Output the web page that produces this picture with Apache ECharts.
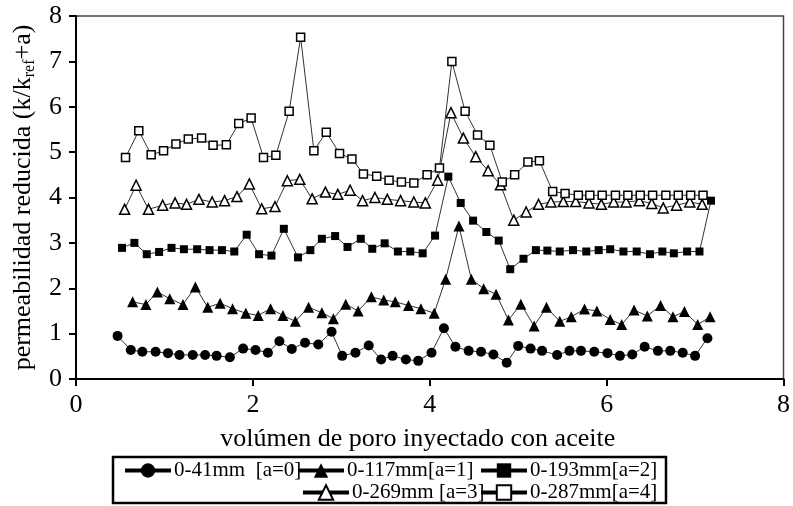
<!DOCTYPE html>
<html>
<head>
<meta charset="utf-8">
<script src="https://cdn.jsdelivr.net/npm/echarts@6/dist/echarts.min.js"></script>
<style>
  html, body { margin: 0; padding: 0; background: #fff; }
  #chart { width: 793px; height: 506px; }
</style>
</head>
<body>
<div id="chart"></div>
<script>
// Reduced permeability vs. injected oil pore volume, five core sections
const seriesNames = ['0-41mm  [a=0]', '0-117mm[a=1]', '0-193mm[a=2]', '0-269mm [a=3]', '0-287mm[a=4]'];

const x0 = [0.47,0.62,0.75,0.90,1.04,1.17,1.32,1.46,1.59,1.74,1.89,2.03,2.17,2.30,2.44,2.59,2.74,2.89,3.01,3.16,3.31,3.45,3.58,3.73,3.87,4.02,4.16,4.29,4.44,4.58,4.72,4.87,5.00,5.14,5.27,5.44,5.58,5.71,5.86,6.01,6.15,6.29,6.43,6.58,6.72,6.86,7.00,7.14];
const y0 = [0.95,0.64,0.60,0.60,0.57,0.53,0.53,0.53,0.51,0.48,0.67,0.64,0.58,0.83,0.66,0.80,0.76,1.04,0.51,0.58,0.74,0.43,0.51,0.43,0.40,0.58,1.12,0.71,0.62,0.60,0.54,0.36,0.73,0.67,0.62,0.53,0.62,0.62,0.60,0.57,0.51,0.54,0.71,0.62,0.62,0.58,0.51,0.90];

const x1 = [0.64,0.79,0.92,1.06,1.21,1.35,1.49,1.63,1.77,1.92,2.06,2.20,2.34,2.48,2.63,2.78,2.91,3.05,3.19,3.34,3.48,3.61,3.76,3.90,4.05,4.18,4.33,4.47,4.61,4.75,4.89,5.03,5.18,5.32,5.47,5.60,5.75,5.89,6.04,6.17,6.31,6.46,6.61,6.75,6.88,7.03,7.17];
const y1 = [1.70,1.64,1.92,1.77,1.64,2.03,1.58,1.67,1.55,1.45,1.40,1.55,1.40,1.27,1.58,1.46,1.33,1.65,1.50,1.81,1.74,1.70,1.62,1.55,1.45,2.20,3.37,2.20,1.99,1.87,1.30,1.65,1.17,1.58,1.27,1.37,1.54,1.50,1.31,1.20,1.52,1.39,1.62,1.37,1.49,1.20,1.37];

const x2 = [0.52,0.66,0.80,0.94,1.08,1.22,1.37,1.51,1.65,1.79,1.93,2.07,2.21,2.35,2.51,2.65,2.78,2.93,3.07,3.22,3.35,3.49,3.64,3.78,3.92,4.06,4.21,4.35,4.49,4.64,4.78,4.91,5.06,5.20,5.33,5.47,5.62,5.77,5.91,6.04,6.19,6.34,6.49,6.63,6.76,6.91,7.05,7.18];
const y2 = [2.89,3.00,2.75,2.80,2.89,2.86,2.86,2.84,2.84,2.81,3.18,2.75,2.72,3.31,2.68,2.84,3.09,3.15,2.91,3.09,2.87,2.99,2.81,2.81,2.77,3.16,4.46,3.88,3.49,3.24,3.05,2.42,2.65,2.84,2.83,2.81,2.84,2.81,2.84,2.86,2.81,2.81,2.75,2.81,2.77,2.81,2.81,3.93];

const x3 = [0.55,0.68,0.82,0.98,1.12,1.25,1.39,1.54,1.68,1.82,1.96,2.10,2.25,2.39,2.53,2.67,2.82,2.96,3.10,3.24,3.38,3.52,3.67,3.82,3.95,4.09,4.24,4.38,4.52,4.66,4.80,4.95,5.09,5.23,5.37,5.51,5.65,5.80,5.94,6.08,6.22,6.37,6.51,6.64,6.79,6.94,7.08];
const y3 = [3.74,4.27,3.74,3.83,3.88,3.85,3.96,3.90,3.93,4.02,4.30,3.75,3.80,4.37,4.40,3.97,4.12,4.07,4.16,3.93,4.00,3.96,3.93,3.90,3.88,4.38,5.87,5.31,4.90,4.59,4.28,3.50,3.68,3.85,3.90,3.91,3.91,3.88,3.85,3.90,3.90,3.93,3.87,3.77,3.83,3.90,3.85];

const x4 = [0.56,0.71,0.85,0.99,1.13,1.27,1.42,1.55,1.70,1.84,1.98,2.12,2.26,2.41,2.54,2.69,2.83,2.98,3.12,3.25,3.40,3.54,3.68,3.82,3.97,4.11,4.25,4.40,4.54,4.68,4.82,4.96,5.11,5.24,5.39,5.53,5.68,5.81,5.95,6.10,6.24,6.38,6.52,6.67,6.81,6.95,7.09];
const y4 = [4.88,5.47,4.94,5.03,5.18,5.29,5.31,5.15,5.16,5.63,5.75,4.88,4.93,5.90,7.53,5.03,5.44,4.97,4.85,4.52,4.47,4.38,4.34,4.32,4.50,4.65,7.00,5.90,5.38,5.15,4.34,4.50,4.78,4.81,4.13,4.09,4.05,4.05,4.05,4.05,4.05,4.05,4.05,4.05,4.05,4.05,4.05];

const xTicks = [0, 2, 4, 6, 8];
const yTicks = [0, 1, 2, 3, 4, 5, 6, 7, 8];

const SERIF = "'Liberation Serif', 'Times New Roman', serif";

function pairs(xs, ys) {
  return xs.map((x, i) => [x, ys[i]]);
}

const markerStyles = [
  { symbol: 'circle',   symbolSize: 10, itemStyle: { color: '#000' } },
  { symbol: 'triangle', symbolSize: 11, itemStyle: { color: '#000' } },
  { symbol: 'rect',     symbolSize: 8,  itemStyle: { color: '#000' } },
  { symbol: 'triangle', symbolSize: 10, itemStyle: { color: '#fff', borderColor: '#000', borderWidth: 1.5 } },
  { symbol: 'rect',     symbolSize: 8,  itemStyle: { color: '#fff', borderColor: '#000', borderWidth: 1.5 } }
];

const xs = [x0, x1, x2, x3, x4];
const ys = [y0, y1, y2, y3, y4];

const series = seriesNames.map((name, i) => ({
  name: name,
  type: 'line',
  data: pairs(xs[i], ys[i]),
  symbol: markerStyles[i].symbol,
  symbolSize: markerStyles[i].symbolSize,
  itemStyle: markerStyles[i].itemStyle,
  lineStyle: { color: '#333', width: 1 },
  showAllSymbol: true,
  animation: false,
  z: 2 + i
}));

// one legend block per entry so the two rows sit where they belong
const legendSlots = [
  { left: 123, top: 460 },
  { left: 296, top: 460 },
  { left: 479, top: 460 },
  { left: 301, top: 482 },
  { left: 479, top: 482 }
];
const legends = seriesNames.map((name, i) => ({
  data: [name],
  left: legendSlots[i].left,
  top: legendSlots[i].top,
  padding: 0,
  itemWidth: 46,
  itemHeight: 18,
  selectedMode: false,
  lineStyle: { width: 4, color: '#000' },
  textStyle: { fontFamily: SERIF, fontSize: 21, color: '#000', padding: [0, 0, 0, -2] }
}));

const chart = echarts.init(document.getElementById('chart'), null, { renderer: 'canvas' });
chart.setOption({
  backgroundColor: '#fff',
  animation: false,
  grid: {
    left: 76, right: 7, top: 16, bottom: 127,
    show: true, borderColor: '#444', borderWidth: 1.5, backgroundColor: 'transparent'
  },
  xAxis: {
    type: 'value',
    min: xTicks[0], max: xTicks[xTicks.length - 1], interval: 2,
    name: 'volúmen de poro inyectado con aceite',
    nameLocation: 'middle', nameGap: 47,
    nameTextStyle: { fontFamily: SERIF, fontSize: 26, color: '#000', padding: [0, 24, 0, 0] },
    axisLine: { show: true, onZero: false, lineStyle: { color: '#000', width: 2 } },
    axisTick: { show: true, inside: false, length: 7, lineStyle: { color: '#000', width: 2 } },
    axisLabel: { fontFamily: SERIF, fontSize: 26, color: '#000', margin: 13 },
    splitLine: { show: false }
  },
  yAxis: {
    type: 'value',
    min: yTicks[0], max: yTicks[yTicks.length - 1], interval: 1,
    name: '{n|permeabilidad reducida (k/k}{s|ref}{n|+a)}',
    nameLocation: 'middle', nameGap: 28, nameRotate: 90,
    nameTextStyle: {
      fontFamily: SERIF, fontSize: 26, color: '#000',
      rich: {
        n: { fontFamily: SERIF, fontSize: 26, color: '#000', lineHeight: 30 },
        s: { fontFamily: SERIF, fontSize: 16, color: '#000', lineHeight: 12, verticalAlign: 'bottom' }
      }
    },
    axisLine: { show: true, onZero: false, lineStyle: { color: '#000', width: 2 } },
    axisTick: { show: true, inside: false, length: 7, lineStyle: { color: '#000', width: 2 } },
    axisLabel: { fontFamily: SERIF, fontSize: 26, color: '#000', margin: 14 },
    splitLine: { show: false }
  },
  legend: legends,
  graphic: [{
    type: 'rect',
    shape: { x: 113, y: 457, width: 553, height: 46 },
    style: { fill: 'none', stroke: '#000', lineWidth: 2.5 },
    z: 100
  }],
  series: series
});
</script>
</body>
</html>
